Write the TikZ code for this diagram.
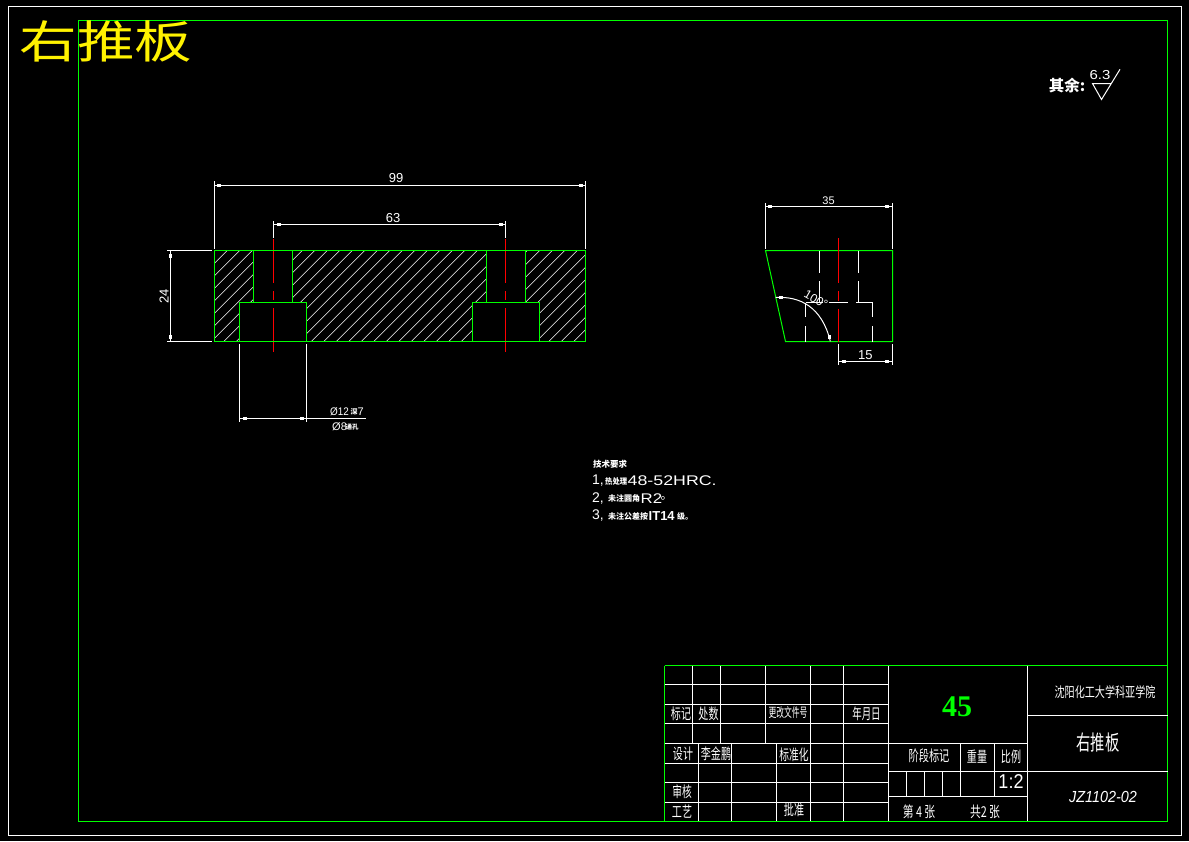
\documentclass[tikz,border=0pt]{standalone}
\usepackage{graphicx}
\usepackage{fontspec}
\setmainfont{Liberation Sans}
\newfontfamily\cjk{Noto Sans CJK SC}
\usetikzlibrary{positioning}
\newcommand{\narrow}[2]{\scalebox{#1}[1]{#2}}
\newcommand{\sz}[1]{\fontsize{#1}{#1}\selectfont}
\tikzset{
    part/.style={green, line width=1pt},
    thin line/.style={white, line width=1pt},
    hidden/.style={white, line width=1pt},
    axis/.style={red, line width=1pt},
    hatch/.style={white, line width=0.6pt},
    tick/.style={fill=white, inner sep=0pt, minimum width=4pt, minimum height=2.6pt},
    tock/.style={fill=white, inner sep=0pt, minimum width=2.6pt, minimum height=4pt},
    dim/.style={white, inner sep=0pt, font=\sz{13}},
    cell/.style={white, inner sep=0pt, font=\cjk\sz{15}},
    tiny cjk/.style={white, inner sep=0pt, anchor=west, font=\cjk\bfseries\sz{8}},
    req/.style={white, inner sep=0pt, anchor=west, font=\sz{14}},
}
\begin{document}
\begin{tikzpicture}[x=1pt, y=-1pt]

    % Page
    \fill[black] (0,0) rectangle (1189,841);
    \useasboundingbox (0,0) rectangle (1189,841);
    \draw[thin line] (8.5,6.5) rectangle (1181.5,835.5);
    \draw[part] (78.5,20.5) rectangle (1167.5,821.5);

    \node[inner sep=0pt, yellow, font=\cjk\sz{45}] (title) at (106,41.5) {\narrow{1.28}{右推板}};

    % Front view
    \begin{scope}
        \clip (214.5,250.5) rectangle (585.5,341.5);
        \foreach \k in {-9,...,30}
            \draw[hatch] ({315+12.5*\k+100},150.3) -- ({315+12.5*\k-100},350.3);
    \end{scope}
    \foreach \c/\a/\b/\p/\q in {273.5/253.5/292.5/239.5/306.5, 505.5/486.5/525.5/472.5/539.5} {
        \fill[black] (\a,250.5) rectangle (\b,302.5);
        \fill[black] (\p,302.5) rectangle (\q,341.5);
        \draw[part] (\a,250.5) -- (\a,302.5) (\b,250.5) -- (\b,302.5);
        \draw[part] (\p,341.5) -- (\p,302.5) -- (\q,302.5) -- (\q,341.5);
        \draw[axis] (\c,239) -- (\c,282.7) (\c,291) -- (\c,300) (\c,308.3) -- (\c,352);
    }
    \draw[part] (214.5,250.5) rectangle (585.5,341.5);

    % Front view dimensions
    \coordinate (a1) at (214.5,185.5);
    \coordinate (a2) at (585.5,185.5);
    \draw[thin line] (214.5,181) -- (214.5,249) (585.5,181) -- (585.5,249);
    \draw[thin line] (a1) -- (a2);
    \node[tick] (a1t) at (219,185.5) {};
    \node[tick] (a2t) at (581,185.5) {};
    \node[dim] (d99) at (396,178) {99};

    \coordinate (b1) at (273.5,224.5);
    \coordinate (b2) at (505.5,224.5);
    \draw[thin line] (273.5,221) -- (273.5,238) (505.5,221) -- (505.5,238);
    \draw[thin line] (b1) -- (b2);
    \node[tick] (b1t) at (279,224.5) {};
    \node[tick] (b2t) at (500.5,224.5) {};
    \node[dim] (d63) at (393,218.5) {63};

    \coordinate (c1) at (170.5,250.5);
    \coordinate (c2) at (170.5,341.5);
    \draw[thin line] (167,250.5) -- (212,250.5) (167,341.5) -- (212,341.5);
    \draw[thin line] (c1) -- (c2);
    \node[tock] (c1t) at (170.5,255.5) {};
    \node[tock] (c2t) at (170.5,336.5) {};
    \node[dim, rotate=90] (d24) at (164,296) {24};

    \coordinate (e1) at (239.5,418.5);
    \coordinate (e2) at (365.5,418.5);
    \draw[thin line] (239.5,344) -- (239.5,421.5) (306.5,344) -- (306.5,421.5);
    \draw[thin line] (e1) -- (e2);
    \node[tick] (e1t) at (245,418.5) {};
    \node[tick] (e2t) at (301.5,418.5) {};
    \node[dim, anchor=west, font=\sz{11}] (d12) at (330,411.5) {\narrow{.9}{Ø12}};
    \node[tiny cjk, font=\cjk\bfseries\sz{7}] (d12b) at (350.5,411.5) {深};
    \node[dim, anchor=west, font=\sz{11}] (d7) at (357.5,411.5) {7};
    \node[dim, anchor=west, font=\sz{11}] (d8) at (332,427) {Ø8};
    \node[tiny cjk, font=\cjk\bfseries\sz{6.5}] (d8b) at (345.5,427.5) {通孔};

    % Side view
    \draw[part] (765.5,250.5) -- (892.5,250.5) -- (892.5,341.5) -- (785.5,341.5) -- cycle;
    \draw[axis] (838.5,238.3) -- (838.5,282.7) (838.5,291) -- (838.5,300.7) (838.5,309.3) -- (838.5,342);
    \foreach \h in {819.5,858.5}
        \draw[hidden] (\h,250.5) -- (\h,272.7) (\h,281) -- (\h,302.5);
    \foreach \h in {805.5,872.5}
        \draw[hidden] (\h,302.5) -- (\h,317.3) (\h,326) -- (\h,341.5);
    \draw[hidden] (805.5,302.5) -- (822.7,302.5) (829.3,302.5) -- (847.7,302.5) (856,302.5) -- (872.5,302.5);

    % Side view dimensions
    \coordinate (f1) at (765.5,206.5);
    \coordinate (f2) at (892.5,206.5);
    \draw[thin line] (765.5,203) -- (765.5,249) (892.5,203) -- (892.5,249);
    \draw[thin line] (f1) -- (f2);
    \node[tick] (f1t) at (770,206.5) {};
    \node[tick] (f2t) at (887,206.5) {};
    \node[dim, font=\sz{11}] (d35) at (828.5,200.5) {35};

    \coordinate (g1) at (838.5,361.5);
    \coordinate (g2) at (892.5,361.5);
    \draw[thin line] (838.5,344) -- (838.5,364.5) (892.5,344) -- (892.5,364.5);
    \draw[thin line] (g1) -- (g2);
    \node[tick] (g1t) at (843.5,361.5) {};
    \node[tick] (g2t) at (887,361.5) {};
    \node[dim] (d15) at (865.3,354.7) {15};

    \coordinate (h1) at (775.7,297.5);
    \coordinate (h2) at (830.3,341.3);
    \draw[thin line] (h1) .. controls (800,296) and (822,307) .. (h2);
    \node[tick] (h1t) at (781,297.5) {};
    \node[tock] (h2t) at (829.5,336.5) {};
    \node[dim, rotate=-30, font=\sz{12}] (d100) at (816,299.5) {100°};

    % Title block, left part
    \foreach \r in {684.5,704.5,723.5,743.5,763.5,782.5,802.5}
        \draw[thin line] (664.5,\r) -- (888.5,\r);
    \foreach \v in {692.5,720.5,765.5,810.5,843.5}
        \draw[thin line] (\v,665.5) -- (\v,743.5);
    \foreach \v in {698.5,731.5,776.5,810.5,843.5}
        \draw[thin line] (\v,743.5) -- (\v,821.5);
    % Title block, right part
    \draw[thin line] (888.5,665.5) -- (888.5,821.5) (1027.5,665.5) -- (1027.5,821.5);
    \draw[thin line] (888.5,743.5) -- (1027.5,743.5) (888.5,771.5) -- (1027.5,771.5) (888.5,796.5) -- (1027.5,796.5);
    \draw[thin line] (960.5,743.5) -- (960.5,796.5) (994.5,743.5) -- (994.5,796.5);
    \foreach \v in {906.5,924.5,942.5}
        \draw[thin line] (\v,771.5) -- (\v,796.5);
    \draw[thin line] (1027.5,715.5) -- (1167.5,715.5) (1027.5,771.5) -- (1167.5,771.5);
    \draw[part] (664.5,665.5) -- (664.5,821.5) (664.5,665.5) -- (1167.5,665.5);
    \draw[part] (664.5,821.5) -- (1167.5,821.5);

    % Title block texts
    \node[cell] (t1) at (681,714) {\narrow{.67}{标记}};
    \node[cell] (t2) at (708.5,714) {\narrow{.67}{处数}};
    \node[cell, font=\cjk\sz{13}] (t3) at (788,713) {\narrow{.6}{更改文件号}};
    \node[cell] (t4) at (866.5,714) {\narrow{.63}{年月日}};
    \node[cell] (t5) at (683,754) {\narrow{.67}{设计}};
    \node[cell] (t6) at (716,754) {\narrow{.67}{李金鹏}};
    \node[cell] (t7) at (794,755) {\narrow{.65}{标准化}};
    \node[cell] (t8) at (682,792) {\narrow{.65}{审核}};
    \node[cell] (t9) at (682,812) {\narrow{.67}{工艺}};
    \node[cell] (t10) at (794,810) {\narrow{.67}{批准}};
    \node[inner sep=0pt, green, font=\fontspec{Liberation Serif}\bfseries\sz{30}] (mat) at (957,707) {45};
    \node[cell, font=\cjk\sz{14}] (t11) at (1105,692) {\narrow{.72}{沈阳化工大学科亚学院}};
    \node[cell, font=\cjk\sz{21}] (t12) at (1098,743) {\narrow{.68}{右推板}};
    \node[dim, font=\itshape\sz{16}] (t13) at (1103,796.5) {\narrow{.9}{JZ1102-02}};
    \node[cell] (t14) at (929,756) {\narrow{.68}{阶段标记}};
    \node[cell] (t15) at (977,757) {\narrow{.67}{重量}};
    \node[cell] (t16) at (1011,757) {\narrow{.67}{比例}};
    \node[dim, font=\sz{20}] (t17) at (1011,781.5) {\narrow{.9}{1:2}};
    \node[cell] (t18) at (919,811.5) {\narrow{.72}{第 4 张}};
    \node[cell] (t19) at (985,811.5) {\narrow{.72}{共2 张}};

    % Technical notes
    \node[tiny cjk, font=\cjk\bfseries\sz{8.5}] (n0) at (593,464) {技术要求};
    \node[req] (n1) at (592,481) {1,};
    \node[tiny cjk] (n1b) at (605,481) {\narrow{.92}{热处理}};
    \node[req] (n1c) at (627.5,481) {\narrow{1.27}{48-52HRC.}};
    \node[req] (n2) at (592,498.5) {2,};
    \node[tiny cjk] (n2b) at (608,498.5) {未注圆角};
    \node[req] (n2c) at (640.5,498.5) {\narrow{1.2}{R2}};
    \node[tiny cjk, font=\cjk\sz{12}] (n2d) at (660.5,498) {。};
    \node[req] (n3) at (592,516) {3,};
    \node[tiny cjk] (n3b) at (608,516) {未注公差按};
    \node[req, font=\bfseries\sz{13}] (n3c) at (648.5,516) {IT14};
    \node[tiny cjk] (n3d) at (677,516) {级。};

    % Surface mark
    \node[white, inner sep=0pt, font=\cjk\bfseries\sz{15.5}] (rest) at (1067,86) {其余:};
    \node[dim] (rough) at (1100,75) {\narrow{1.15}{6.3}};
    \coordinate (s1) at (1092.5,83.5);
    \coordinate (s2) at (1111.5,83.5);
    \coordinate (s3) at (1101.5,99.5);
    \coordinate (s4) at (1120,69.3);
    \draw[thin line] (s2) -- (s1) -- (s3) -- (s4);

\end{tikzpicture}
\end{document}
